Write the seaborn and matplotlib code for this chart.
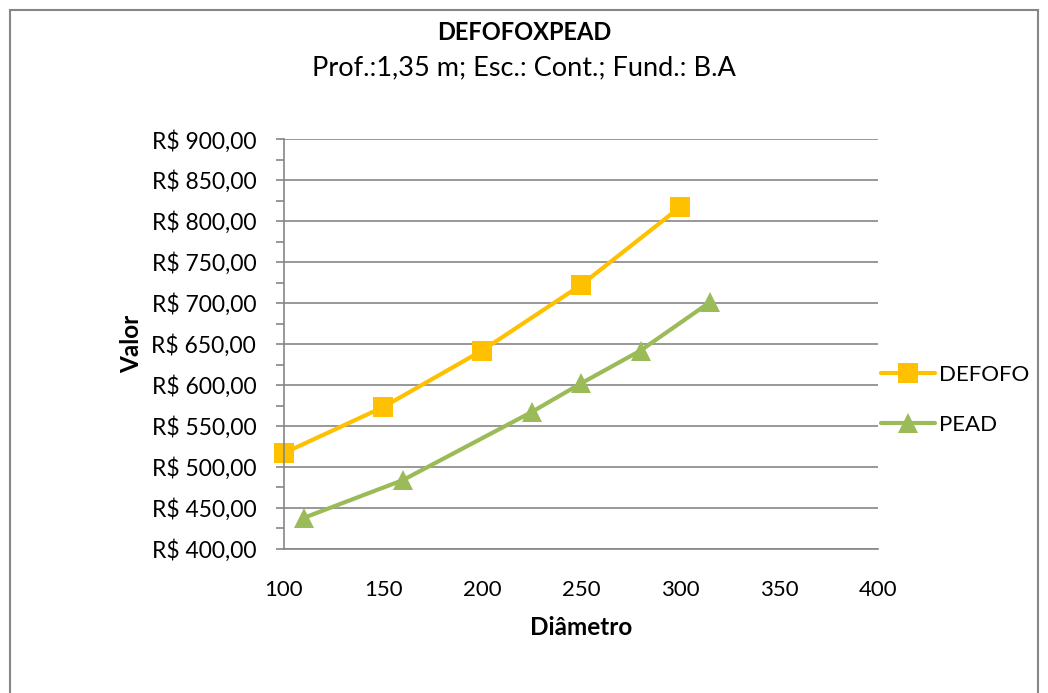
import matplotlib
matplotlib.use("Agg")
import matplotlib.pyplot as plt
import seaborn as sns
import pandas as pd
from matplotlib.ticker import FuncFormatter, MultipleLocator
from matplotlib.patches import Rectangle
from matplotlib.lines import Line2D

defofo_x = [100, 150, 200, 250, 300]
defofo_y = [517, 573, 642, 722, 817]
pead_x = [110, 160, 225, 250, 280, 315]
pead_y = [438, 484, 567, 602, 642, 701]
series_names = ["DEFOFO", "PEAD"]
colors = ["#FFC000", "#9BBB59"]
markers = ["s", "^"]

sns.set_theme(style="white")
plt.rcParams['font.family'] = ['Lato', 'DejaVu Sans']
plt.rcParams['text.color'] = 'black'
plt.rcParams['axes.labelcolor'] = 'black'
plt.rcParams['xtick.color'] = 'black'
plt.rcParams['ytick.color'] = 'black'

df = pd.concat([
    pd.DataFrame({"Diâmetro": defofo_x, "Valor": defofo_y, "Série": series_names[0]}),
    pd.DataFrame({"Diâmetro": pead_x, "Valor": pead_y, "Série": series_names[1]}),
])

fig = plt.figure(figsize=(10.48, 6.93), dpi=100)
ax = fig.add_axes([0.271, 0.2078, 0.567, 0.5916])

sns.lineplot(data=df, x="Diâmetro", y="Valor", hue="Série", style="Série",
             palette=colors, markers=dict(zip(series_names, markers)), dashes=False,
             linewidth=3.0, markersize=14, markeredgewidth=0, ax=ax, legend=False,
             sort=False, clip_on=False)

ax.set_xlim(100, 400)
ax.set_ylim(400, 900)
ax.xaxis.set_major_locator(MultipleLocator(50))
ax.yaxis.set_major_locator(MultipleLocator(50))
ax.yaxis.set_minor_locator(MultipleLocator(25))
ax.yaxis.set_major_formatter(FuncFormatter(lambda v, p: "R$ %d,00" % v))
ax.grid(axis="y", color="#868686", linewidth=1.2)
ax.grid(axis="x", visible=False)
ax.set_axisbelow(True)
for s in ["top", "right"]:
    ax.spines[s].set_visible(False)
for s in ["left", "bottom"]:
    ax.spines[s].set_color("#868686")
    ax.spines[s].set_linewidth(1.2)
ax.tick_params(axis="y", which="major", left=True, length=6, width=1.2, color="#868686",
               labelsize=16.5, pad=14, labelcolor="black")
ax.tick_params(axis="y", which="minor", left=True, length=6, width=1.2, color="#868686")
ax.tick_params(axis="x", bottom=False, labelsize=16, pad=16, labelcolor="black")
ax.set_xlabel("Diâmetro", fontsize=17.5, fontweight="bold", labelpad=12)
ax.set_ylabel("Valor", fontsize=17.5, fontweight="bold", labelpad=6)

fig.text(0.5, 1 - 32 / 693, "DEFOFOXPEAD", ha="center", va="center", fontsize=17, fontweight="bold")
fig.text(0.5, 1 - 68 / 693, "Prof.:1,35 m; Esc.: Cont.; Fund.: B.A", ha="center", va="center", fontsize=19.5)

handles = [Line2D([0], [0], color=c, marker=m, linewidth=3.0, markersize=14, markeredgewidth=0)
           for c, m in zip(colors, markers)]
leg = fig.legend(handles, series_names, loc="center left", bbox_to_anchor=(0.822, 1 - 400 / 693),
                 frameon=False, fontsize=16, handlelength=2.4, handletextpad=0.2,
                 labelspacing=1.35)

fig.patches.append(Rectangle((10 / 1048, -0.01), 1028 / 1048, 1 - 10 / 693 + 0.01,
                             transform=fig.transFigure, fill=False, edgecolor="#868686",
                             linewidth=1.5))

fig.savefig("out.png", dpi=100, facecolor="white")
